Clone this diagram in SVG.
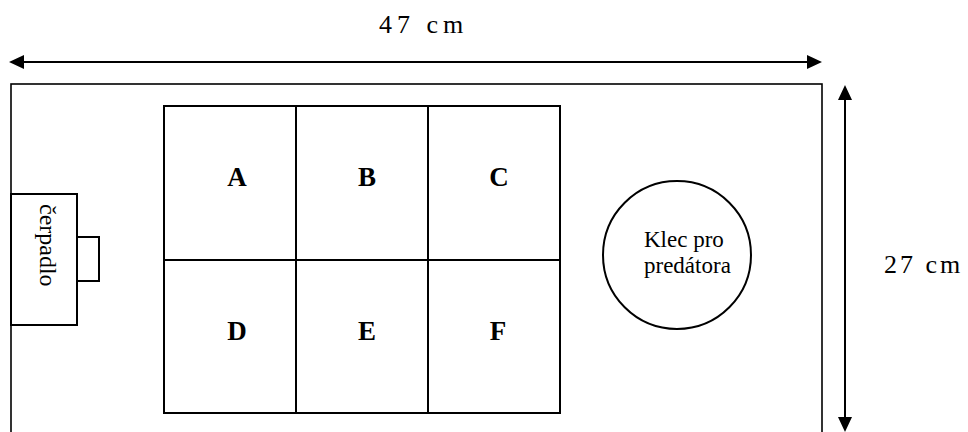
<svg xmlns="http://www.w3.org/2000/svg" width="968" height="432" viewBox="0 0 968 432">
  <style>
    .ln { fill: none; stroke: #000; stroke-width: 2; }
    .thin { fill: none; stroke: #000; stroke-width: 1.6; }
    text { font-family: 'Liberation Serif', 'Times New Roman', Tinos, 'DejaVu Serif', serif; fill: #000; }
    .dim { font-size: 26px; }
    .lab { font-size: 23px; }
    .cell { font-size: 27px; font-weight: bold; text-anchor: middle; }
  </style>
  <defs>
    <marker id="ah" viewBox="0 0 15 14" refX="13" refY="7" markerWidth="15" markerHeight="14" markerUnits="userSpaceOnUse" orient="auto-start-reverse">
      <path d="M0,0 L15,7 L0,14 z" fill="#000"/>
    </marker>
  </defs>
  <rect width="968" height="432" fill="#fff"/>

  <g id="tank">
    <rect class="thin" x="11" y="84" width="811" height="360"/>
  </g>

  <g id="connectors">
    <line class="ln" x1="11" y1="62" x2="820" y2="62" marker-start="url(#ah)" marker-end="url(#ah)"/>
    <line class="ln" x1="845" y1="87" x2="845" y2="430" marker-start="url(#ah)" marker-end="url(#ah)"/>
  </g>

  <g id="label-width">
    <text class="dim" x="379" y="33" letter-spacing="5">47 cm</text>
  </g>
  <g id="label-height">
    <text class="dim" x="884" y="273" letter-spacing="3">27 cm</text>
  </g>

  <g id="grid">
    <rect class="ln" x="164" y="106" width="396" height="307"/>
    <line class="ln" x1="296" y1="106" x2="296" y2="413"/>
    <line class="ln" x1="428" y1="106" x2="428" y2="413"/>
    <line class="ln" x1="164" y1="260" x2="560" y2="260"/>
  </g>
  <g id="cell-A"><text class="cell" x="237" y="186">A</text></g>
  <g id="cell-B"><text class="cell" x="367" y="186">B</text></g>
  <g id="cell-C"><text class="cell" x="499" y="186">C</text></g>
  <g id="cell-D"><text class="cell" x="237" y="340">D</text></g>
  <g id="cell-E"><text class="cell" x="367" y="340">E</text></g>
  <g id="cell-F"><text class="cell" x="498" y="340">F</text></g>

  <g id="pump">
    <rect class="ln" x="11" y="194" width="66" height="131"/>
    <rect class="ln" x="77" y="237" width="22" height="44"/>
    <text class="lab" transform="translate(40,204) rotate(90)" style="font-size:24px">čerpadlo</text>
  </g>

  <g id="cage">
    <circle class="ln" cx="677" cy="255" r="74"/>
    <text class="lab" x="644" y="247">Klec pro</text>
    <text class="lab" x="644" y="273">predátora</text>
  </g>
</svg>
